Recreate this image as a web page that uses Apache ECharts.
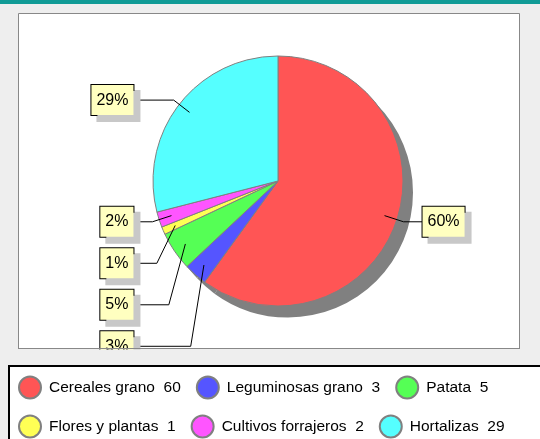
<!DOCTYPE html>
<html>
<head>
<meta charset="utf-8">
<script src="https://cdn.jsdelivr.net/npm/echarts@6/dist/echarts.min.js"></script>
<style>
html,body{margin:0;padding:0;background:#eeeeee;}
#chart{width:540px;height:439px;}
</style>
</head>
<body>
<div id="chart"></div>
<script>
const categories = ['Cereales grano', 'Leguminosas grano', 'Patata', 'Flores y plantas', 'Cultivos forrajeros', 'Hortalizas'];
const values = [60, 3, 5, 1, 2, 29];
const palette = ['#ff5555', '#5555ff', '#55ff55', '#ffff55', '#ff55ff', '#55ffff'];

const FONT = '"Liberation Sans", Arial, sans-serif';
const chart = echarts.init(document.getElementById('chart'), null, {renderer: 'canvas'});

const mainData = categories.map((n, i) => ({name: n, value: values[i], itemStyle: {color: palette[i]}}));
const shadowData = categories.map((n, i) => ({name: n, value: values[i]}));
const labelData = categories.map((n, i) => ({name: n, value: values[i]}));

const option = {
  backgroundColor: '#eeeeee',
  animation: false,
  graphic: [
    {type: 'rect', z: -10, shape: {x: 0, y: 0, width: 540, height: 4}, style: {fill: '#119b96'}},
    {type: 'rect', z: -10, shape: {x: 18.5, y: 13.5, width: 501, height: 335}, style: {fill: '#ffffff', stroke: '#888888', lineWidth: 1}},
    {type: 'rect', z: 100, shape: {x: 0, y: 349.5, width: 540, height: 90}, style: {fill: '#eeeeee'}},
    {type: 'line', z: 101, shape: {x1: 18, y1: 348.5, x2: 520, y2: 348.5}, style: {stroke: '#888888', lineWidth: 1}},
    {type: 'rect', z: 102, shape: {x: 9, y: 366, width: 540, height: 80}, style: {fill: '#ffffff', stroke: '#000000', lineWidth: 2}}
  ],
  legend: {
    z: 200,
    left: 18,
    top: 375.5,
    width: 515,
    padding: 0,
    itemWidth: 22,
    itemHeight: 22,
    itemGap: 15,
    icon: 'circle',
    selectedMode: false,
    data: categories,
    textStyle: {fontSize: 15.5, color: '#000', fontFamily: FONT, padding: [0, 0, 0, 3]},
    formatter: function (name) {
      return name + '  ' + values[categories.indexOf(name)];
    }
  },
  series: [
    {
      type: 'pie',
      name: 'main',
      z: 3,
      center: [278, 181],
      radius: 125,
      startAngle: 90,
      clockwise: true,
      silent: true,
      label: {show: false},
      labelLine: {show: false},
      itemStyle: {borderColor: '#808080', borderWidth: 1},
      emphasis: {disabled: true},
      data: mainData
    },
    {
      type: 'pie',
      name: 'shadow',
      z: 2,
      center: [288, 192.5],
      radius: 125,
      startAngle: 90,
      silent: true,
      label: {show: false},
      labelLine: {show: false},
      itemStyle: {color: '#808080', borderWidth: 0},
      emphasis: {disabled: true},
      data: shadowData
    },
    {
      type: 'pie',
      name: 'labels',
      z: 4,
      center: [278, 181],
      radius: 112,
      startAngle: 90,
      silent: true,
      percentPrecision: 0,
      avoidLabelOverlap: true,
      itemStyle: {color: 'rgba(0,0,0,0)', borderWidth: 0},
      emphasis: {disabled: true},
      label: {
        show: true,
        position: 'outer',
        alignTo: 'labelLine',
        distanceToLabelLine: 0,
        formatter: '{d}%',
        fontFamily: FONT,
        fontSize: 16,
        lineHeight: 20,
        color: '#000',
        backgroundColor: '#ffffc0',
        borderColor: '#000',
        borderWidth: 1,
        padding: [5, 5, 5, 5],
        shadowColor: '#c8c8c8',
        shadowBlur: 0,
        shadowOffsetX: 6,
        shadowOffsetY: 6,
        margin: 9.5,
        minMargin: 9.5
      },
      labelLine: {
        show: true,
        length: 20,
        length2: 19,
        smooth: false,
        lineStyle: {color: '#000', width: 1}
      },
      data: labelData
    }
  ]
};
chart.setOption(option);
</script>
</body>
</html>
